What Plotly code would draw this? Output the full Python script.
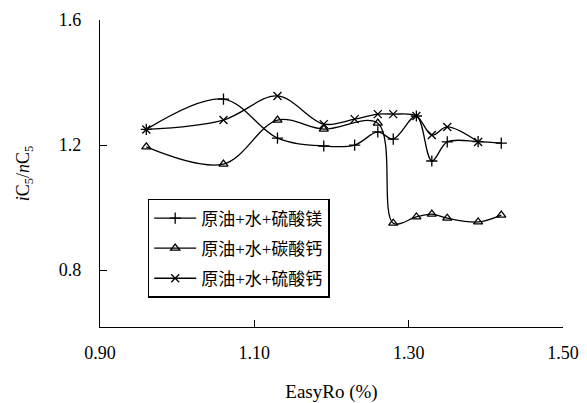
import plotly.graph_objects as go

# Data
x_mg = [0.96, 1.06, 1.13, 1.19, 1.23, 1.26, 1.28, 1.31, 1.33, 1.35, 1.39, 1.42]
y_mg = [1.250, 1.347, 1.222, 1.197, 1.200, 1.242, 1.219, 1.293, 1.149, 1.210, 1.211, 1.206]

x_caco3 = [0.96, 1.06, 1.13, 1.19, 1.26, 1.28, 1.31, 1.33, 1.35, 1.39, 1.42]
y_caco3 = [1.194, 1.139, 1.280, 1.251, 1.270, 0.950, 0.970, 0.979, 0.966, 0.954, 0.976]

x_caso4 = [0.96, 1.06, 1.13, 1.19, 1.23, 1.26, 1.28, 1.31, 1.33, 1.35, 1.39]
y_caso4 = [1.250, 1.280, 1.357, 1.267, 1.283, 1.299, 1.299, 1.293, 1.232, 1.258, 1.210]

names = ["原油+水+硫酸镁", "原油+水+碳酸钙", "原油+水+硫酸钙"]
x_ticks = [0.90, 1.10, 1.30, 1.50]
x_tick_text = ["0.90", "1.10", "1.30", "1.50"]
y_ticks = [0.8, 1.2, 1.6]
y_tick_text = ["0.8", "1.2", "1.6"]

serif = "'Liberation Serif', 'Times New Roman', serif"
cjk = "'Liberation Serif', 'Noto Sans CJK SC', serif"

fig = go.Figure()
series = [
    (x_mg, y_mg, names[0], "cross-thin-open"),
    (x_caco3, y_caco3, names[1], "triangle-up-open"),
    (x_caso4, y_caso4, names[2], "x-thin-open"),
]
for i, (xs, ys, nm, sym) in enumerate(series):
    fig.add_trace(go.Scatter(
        x=xs, y=ys, name=nm, mode="lines+markers", legendgroup=f"g{i}",
        line=dict(color="black", width=1.3, shape="spline", smoothing=1.0),
        marker=dict(symbol=sym, size=8, color="black",
                    line=dict(color="black", width=1.3)),
    ))

# page body has an 8px default margin, so the figure is 8px smaller than the window
fig.update_layout(
    width=579, height=395,
    margin=dict(l=92, r=24, t=12, b=76),
    paper_bgcolor="white", plot_bgcolor="white",
    font=dict(family=serif, size=16, color="black"),
    showlegend=True,
    legend=dict(
        x=0.103, y=0.417, xanchor="left", yanchor="top",
        bordercolor="black", borderwidth=1.5, bgcolor="white",
        font=dict(family=cjk, size=17, color="black"),
        traceorder="grouped", tracegroupgap=5, itemwidth=42,
    ),
    xaxis=dict(
        range=[0.9, 1.5], tickvals=x_ticks, ticktext=x_tick_text,
        showline=True, linecolor="black", linewidth=1.2,
        ticks="inside", ticklen=7, tickcolor="black",
        showgrid=False, zeroline=False, ticklabelstandoff=9,
        automargin=False,
        tickfont=dict(size=18),
        title=dict(text="EasyRo (%)", standoff=22, font=dict(size=19)),
    ),
    yaxis=dict(
        range=[0.618, 1.6], tickvals=y_ticks, ticktext=y_tick_text,
        showline=True, linecolor="black", linewidth=1.2,
        ticks="inside", ticklen=7, tickcolor="black",
        showgrid=False, zeroline=False, ticklabelstandoff=14,
        automargin=False,
        tickfont=dict(size=18),
        title=dict(text="<i>i</i>C<sub>5</sub>/<i>n</i>C<sub>5</sub>",
                   standoff=24, font=dict(size=18)),
    ),
)

fig.write_html("out.html")
